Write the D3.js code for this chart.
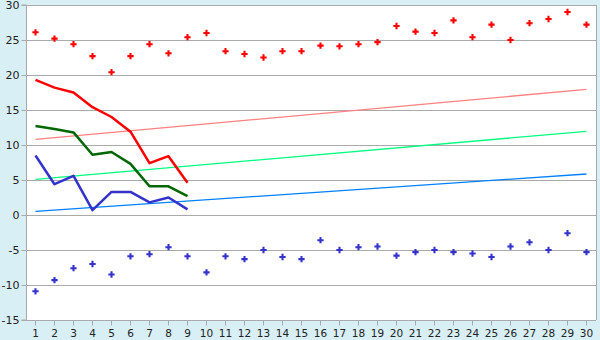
<!DOCTYPE html>
<html><head><meta charset="utf-8">
<script src="https://cdn.jsdelivr.net/npm/d3@7"></script>
<style>html,body{margin:0;padding:0;background:#d9eff6;}svg{display:block;}</style>
</head><body>
<svg id="c" width="600" height="340"></svg>
<script>
const categories = d3.range(1, 31).map(String);
const yTicks = [-15, -10, -5, 0, 5, 10, 15, 20, 25, 30];

const highPoints = [26.1, 25.2, 24.4, 22.7, 20.4, 22.7, 24.4, 23.1, 25.4, 26.0,
  23.4, 23.0, 22.5, 23.4, 23.4, 24.2, 24.1, 24.4, 24.7, 27.0,
  26.2, 26.0, 27.8, 25.4, 27.2, 25.0, 27.4, 28.0, 29.0, 27.2];
const lowPoints = [-10.9, -9.3, -7.6, -7.0, -8.5, -5.9, -5.6, -4.6, -5.9, -8.2,
  -5.9, -6.3, -5.0, -6.0, -6.3, -3.6, -5.0, -4.6, -4.5, -5.8,
  -5.3, -5.0, -5.3, -5.5, -6.0, -4.5, -3.9, -5.0, -2.6, -5.3];

const redLine = [19.3, 18.2, 17.5, 15.4, 14.0, 11.9, 7.4, 8.4, 4.6];
const greenLine = [12.7, 12.3, 11.8, 8.6, 9.0, 7.3, 4.1, 4.1, 2.7];
const blueLine = [8.5, 4.4, 5.6, 0.7, 3.3, 3.3, 1.8, 2.5, 0.8];

const trendRed = [10.8, 17.95];
const trendGreen = [5.1, 11.95];
const trendBlue = [0.52, 5.86];

const svg = d3.select("#c");
const L = 26, R = 596, T = 5, B = 320;

const x = d3.scaleBand().domain(categories).range([L, R]).paddingInner(0).paddingOuter(0);
const cx = c => x(c) + x.bandwidth() / 2;
const y = d3.scaleLinear().domain([-15, 30]).range([B, T]);

svg.append("rect").attr("x", L).attr("y", T).attr("width", R - L).attr("height", B - T).attr("fill", "#fff");

// grid
svg.append("g").selectAll("line").data(yTicks.filter(v => v > -15)).join("line")
  .attr("x1", L).attr("x2", R).attr("y1", d => Math.round(y(d)) + 0.5).attr("y2", d => Math.round(y(d)) + 0.5)
  .attr("stroke", "#aaaaaa").attr("stroke-width", 1);
// border right
svg.append("line").attr("x1", R + 0.5).attr("x2", R + 0.5).attr("y1", T).attr("y2", B).attr("stroke", "#aaaaaa");

// axes
const yAxis = d3.axisLeft(y).tickValues(yTicks).tickSize(5).tickPadding(2).tickFormat(d => String(d));
const gy = svg.append("g").attr("transform", `translate(${L + 0.5},0)`).call(yAxis);
gy.select(".domain").attr("stroke", "#aaaaaa").attr("d", `M-5,${y(30)}H0V${y(-15)}H-5`);
gy.selectAll(".tick line").attr("stroke", "#aaaaaa");
gy.selectAll(".tick text").attr("font-family", "DejaVu Sans, Verdana, sans-serif").attr("font-size", 11).attr("fill", "#222");

const xAxis = d3.axisBottom(x).tickSize(5).tickPadding(4);
const gx = svg.append("g").attr("transform", `translate(0,${B + 0.5})`).call(xAxis);
gx.select(".domain").attr("stroke", "#aaaaaa").attr("d", `M${L},0H${R}`);
gx.selectAll(".tick line").attr("stroke", "#aaaaaa");
gx.selectAll(".tick text").attr("font-family", "DejaVu Sans, Verdana, sans-serif").attr("font-size", 10.5).attr("fill", "#222");

// trend lines
const trends = [[trendRed, "#ff8080"], [trendGreen, "#00ff80"], [trendBlue, "#0080ff"]];
trends.forEach(([t, col]) => {
  svg.append("line").attr("x1", cx(categories[0])).attr("x2", cx(categories[29]))
    .attr("y1", y(t[0])).attr("y2", y(t[1])).attr("stroke", col).attr("stroke-width", 1.3);
});

// lines
const line = d3.line().x((d, i) => cx(categories[i])).y(d => y(d));
[[redLine, "#ff0000"], [greenLine, "#006600"], [blueLine, "#3333cc"]].forEach(([s, col]) => {
  svg.append("path").datum(s).attr("d", line).attr("fill", "none").attr("stroke", col)
    .attr("stroke-width", 2.5).attr("stroke-linejoin", "round");
});

// points
const sym = d3.symbol().type(d3.symbolCross).size(22);
[[highPoints, "#ff0000"], [lowPoints, "#3333cc"]].forEach(([s, col]) => {
  svg.append("g").selectAll("path").data(s).join("path")
    .attr("transform", (d, i) => `translate(${cx(categories[i])},${y(d)})`)
    .attr("d", sym).attr("fill", col);
});
</script>
</body></html>
